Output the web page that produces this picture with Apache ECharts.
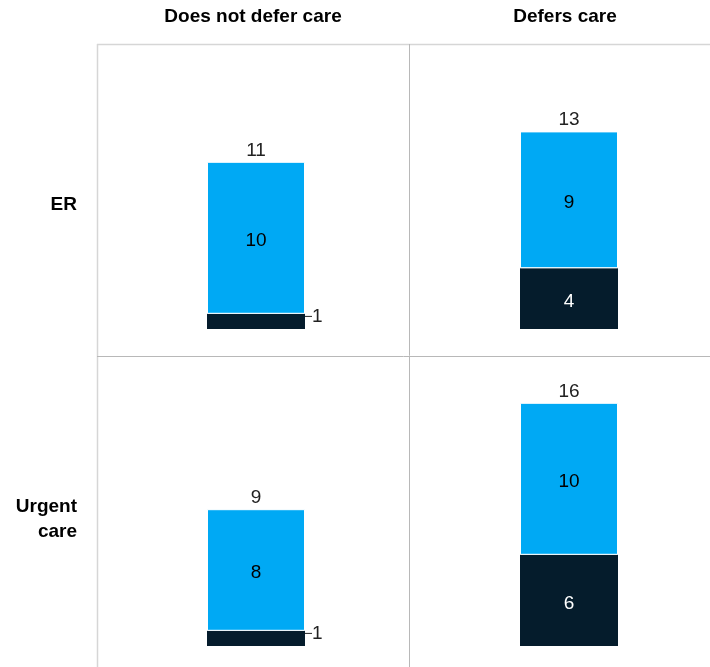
<!DOCTYPE html>
<html>
<head>
<meta charset="utf-8">
<script src="https://cdn.jsdelivr.net/npm/echarts@6/dist/echarts.min.js"></script>
<style>
html,body{margin:0;padding:0;background:#fff;}
#chart{width:710px;height:667px;}
</style>
</head>
<body>
<div id="chart"></div>
<script>
// Data
const columns = ['Does not defer care', 'Defers care'];
const rows = ['ER', 'Urgent care'];
// values per [row][column]
const darkValues = [[1, 4], [1, 6]];
const blueValues = [[10, 9], [8, 10]];
const totals = [[11, 13], [9, 16]];

const FONT = "'Liberation Sans', Arial, sans-serif";
const DARK = '#051c2c';
const BLUE = '#00a9f4';

const chart = echarts.init(document.getElementById('chart'), null, {renderer: 'canvas'});

const gridTops = [25, 342];
const gridLefts = [156, 469];
const grids = [], xAxes = [], yAxes = [], series = [];
let idx = 0;
for (let r = 0; r < rows.length; r++) {
  for (let c = 0; c < columns.length; c++) {
    grids.push({left: gridLefts[c], top: gridTops[r], width: 200, height: 304});
    xAxes.push({type: 'category', gridIndex: idx, data: [columns[c]], show: false});
    yAxes.push({type: 'value', gridIndex: idx, min: 0, max: 20, show: false});
    const dv = darkValues[r][c];
    series.push({
      type: 'bar', xAxisIndex: idx, yAxisIndex: idx, stack: 's' + idx,
      barWidth: 98,
      itemStyle: {color: DARK},
      data: [{
        value: dv,
        label: dv < 2 ? {position: 'right', distance: 7, color: '#222', offset: [0, 0]} : undefined,
        labelLine: {show: dv < 2, length2: 0, lineStyle: {color: '#222', width: 1}}
      }],
      labelLayout: dv < 2 ? {dy: -5} : undefined,
      label: {show: true, position: 'inside', offset: [0, 3], color: '#fff', fontFamily: FONT, fontSize: 19}
    });
    series.push({
      type: 'bar', xAxisIndex: idx, yAxisIndex: idx, stack: 's' + idx,
      barWidth: 98,
      itemStyle: {color: BLUE, borderColor: '#ffffff', borderWidth: 1},
      data: [blueValues[r][c]],
      label: {show: true, position: 'inside', offset: [0, 3], color: '#000', fontFamily: FONT, fontSize: 19}
    });
    const t = totals[r][c];
    series.push({
      type: 'bar', xAxisIndex: idx, yAxisIndex: idx, stack: 's' + idx,
      barWidth: 98,
      itemStyle: {color: 'transparent'},
      data: [0],
      label: {show: true, position: 'top', distance: 2, color: '#222', fontFamily: FONT, fontSize: 19,
        formatter: () => String(t)}
    });
    idx++;
  }
}

const graphics = [
  {type: 'line', shape: {x1: 97, y1: 44.5, x2: 710, y2: 44.5}, style: {stroke: '#d6d6d6', lineWidth: 1.5}, silent: true},
  {type: 'line', shape: {x1: 97.5, y1: 44, x2: 97.5, y2: 667}, style: {stroke: '#d6d6d6', lineWidth: 1.5}, silent: true},
  {type: 'line', shape: {x1: 409.5, y1: 44, x2: 409.5, y2: 667}, style: {stroke: '#b8b8b8', lineWidth: 1}, silent: true},
  {type: 'line', shape: {x1: 97, y1: 356.5, x2: 710, y2: 356.5}, style: {stroke: '#b8b8b8', lineWidth: 1}, silent: true},
  {type: 'text', x: 253, y: 17, style: {text: columns[0], font: 'bold 19px ' + FONT, fill: '#000', align: 'center', verticalAlign: 'middle'}},
  {type: 'text', x: 565, y: 17, style: {text: columns[1], font: 'bold 19px ' + FONT, fill: '#000', align: 'center', verticalAlign: 'middle'}},
  {type: 'text', x: 77, y: 205, style: {text: rows[0], font: 'bold 19px ' + FONT, fill: '#000', align: 'right', verticalAlign: 'middle'}},
  {type: 'text', x: 77, y: 519, style: {text: 'Urgent\ncare', font: 'bold 19px ' + FONT, fill: '#000', align: 'right', verticalAlign: 'middle', lineHeight: 25}}
];

chart.setOption({
  animation: false,
  grid: grids,
  xAxis: xAxes,
  yAxis: yAxes,
  series: series,
  graphic: graphics
});
</script>
</body>
</html>
